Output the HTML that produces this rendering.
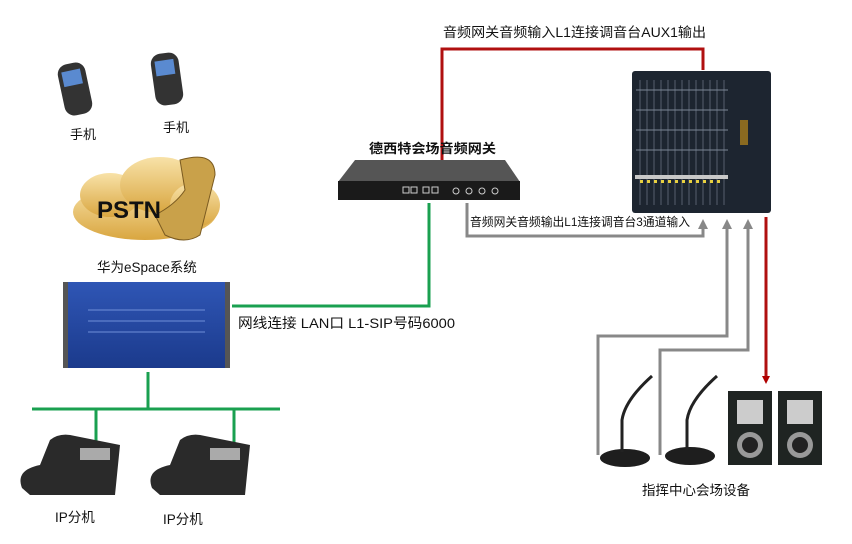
<!DOCTYPE html>
<html><head><meta charset="utf-8"><style>
html,body{margin:0;padding:0;background:#fff;}
svg{display:block;}
text{font-family:"Liberation Sans","Noto Sans CJK SC",sans-serif;fill:#111;}
</style></head><body>
<svg width="852" height="544" viewBox="0 0 852 544" xmlns="http://www.w3.org/2000/svg">
<defs>
<marker id="ar" markerWidth="8" markerHeight="8" refX="4" refY="4" orient="auto" markerUnits="userSpaceOnUse"><path d="M0,0 L8,4 L0,8 z" fill="#b00000"/></marker>
<marker id="ag" markerWidth="10" markerHeight="10" refX="5" refY="5" orient="auto" markerUnits="userSpaceOnUse"><path d="M0,0 L10,5 L0,10 z" fill="#888"/></marker>
<linearGradient id="cl" x1="0" y1="0" x2="0" y2="1"><stop offset="0" stop-color="#f8e2a8"/><stop offset="1" stop-color="#d9a640"/></linearGradient>
<linearGradient id="hw" x1="0" y1="0" x2="0" y2="1"><stop offset="0" stop-color="#2f56b5"/><stop offset="1" stop-color="#1b3a8c"/></linearGradient>
</defs>

<polyline points="703,70 703,49 442,49 442,170" fill="none" stroke="#b01010" stroke-width="3" marker-end="url(#ar)"/>
<text x="443" y="37" font-size="13.5" textLength="263" lengthAdjust="spacingAndGlyphs">音频网关音频输入L1连接调音台AUX1输出</text>

<polyline points="467,203 467,236 703,236 703,224" fill="none" stroke="#888" stroke-width="3" marker-end="url(#ag)"/>
<text x="470" y="226" font-size="12" textLength="220" lengthAdjust="spacingAndGlyphs">音频网关音频输出L1连接调音台3通道输入</text>
<polyline points="598,455 598,336 727,336 727,224" fill="none" stroke="#888" stroke-width="3" marker-end="url(#ag)"/>
<polyline points="660,455 660,350 748,350 748,224" fill="none" stroke="#888" stroke-width="3" marker-end="url(#ag)"/>
<line x1="766" y1="217" x2="766" y2="380" stroke="#b01010" stroke-width="3" marker-end="url(#ar)"/>

<polyline points="429,203 429,306 232,306" fill="none" stroke="#1aa050" stroke-width="3"/>
<line x1="148" y1="372" x2="148" y2="409" stroke="#1aa050" stroke-width="3"/>
<line x1="32" y1="409" x2="280" y2="409" stroke="#1aa050" stroke-width="3"/>
<line x1="96" y1="409" x2="96" y2="447" stroke="#1aa050" stroke-width="3"/>
<line x1="234" y1="409" x2="234" y2="447" stroke="#1aa050" stroke-width="3"/>
<text x="238" y="328" font-size="14" textLength="217" lengthAdjust="spacingAndGlyphs">网线连接 LAN口  L1-SIP号码6000</text>

<text x="369" y="153" font-size="13" font-weight="bold" textLength="127" lengthAdjust="spacingAndGlyphs">德西特会场音频网关</text>
<polygon points="355,160 505,160 520,182 338,182" fill="#555"/>
<rect x="338" y="181" width="182" height="19" fill="#1a1a1a"/>
<g fill="none" stroke="#ccc" stroke-width="1">
<rect x="403" y="187" width="6" height="6"/><rect x="411" y="187" width="6" height="6"/><rect x="423" y="187" width="6" height="6"/><rect x="432" y="187" width="6" height="6"/>
<circle cx="456" cy="191" r="3"/><circle cx="469" cy="191" r="3"/><circle cx="482" cy="191" r="3"/><circle cx="495" cy="191" r="3"/>
</g>

<!-- mixer -->
<rect x="632" y="71" width="139" height="142" rx="3" fill="#1d2530"/>
<g stroke="#56606e" stroke-width="1">
<line x1="640" y1="80" x2="640" y2="205"/><line x1="647" y1="80" x2="647" y2="205"/><line x1="654" y1="80" x2="654" y2="205"/><line x1="661" y1="80" x2="661" y2="205"/><line x1="668" y1="80" x2="668" y2="205"/><line x1="675" y1="80" x2="675" y2="205"/><line x1="682" y1="80" x2="682" y2="205"/><line x1="689" y1="80" x2="689" y2="205"/><line x1="696" y1="80" x2="696" y2="205"/><line x1="703" y1="80" x2="703" y2="205"/><line x1="710" y1="80" x2="710" y2="205"/><line x1="717" y1="80" x2="717" y2="205"/><line x1="724" y1="80" x2="724" y2="205"/>
</g>
<g stroke="#7a8595" stroke-width="1">
<line x1="636" y1="90" x2="728" y2="90"/><line x1="636" y1="110" x2="728" y2="110"/>
<line x1="636" y1="130" x2="728" y2="130"/><line x1="636" y1="150" x2="728" y2="150"/>
</g>
<rect x="635" y="175" width="93" height="4" fill="#c8c8c8"/>
<g fill="#e8d040">
<rect x="640" y="180" width="3" height="3"/><rect x="647" y="180" width="3" height="3"/><rect x="654" y="180" width="3" height="3"/><rect x="661" y="180" width="3" height="3"/><rect x="668" y="180" width="3" height="3"/><rect x="675" y="180" width="3" height="3"/><rect x="682" y="180" width="3" height="3"/><rect x="689" y="180" width="3" height="3"/><rect x="696" y="180" width="3" height="3"/><rect x="703" y="180" width="3" height="3"/><rect x="710" y="180" width="3" height="3"/><rect x="717" y="180" width="3" height="3"/>
</g>
<rect x="740" y="120" width="8" height="25" fill="#8a6a20"/>

<g>
<rect x="61" y="63" width="28" height="52" rx="10" fill="#333" transform="rotate(-12 75 89)"/>
<rect x="65" y="70" width="19" height="15" fill="#5a8ad0" transform="rotate(-12 75 89)"/>
<rect x="153" y="53" width="28" height="52" rx="10" fill="#333" transform="rotate(-8 167 79)"/>
<rect x="157" y="60" width="19" height="15" fill="#5a8ad0" transform="rotate(-8 167 79)"/>
</g>
<text x="70" y="139" font-size="13">手机</text>
<text x="163" y="132" font-size="13">手机</text>

<g fill="url(#cl)">
<ellipse cx="145" cy="212" rx="72" ry="28"/>
<ellipse cx="110" cy="195" rx="30" ry="22"/><ellipse cx="160" cy="185" rx="40" ry="28"/><ellipse cx="195" cy="205" rx="25" ry="22"/>
</g>
<path d="M180,160 Q215,150 215,175 L200,235 Q185,245 165,235 L155,215 Q175,205 185,190 Z" fill="#c9a14a" stroke="#7a5a20" stroke-width="1"/>
<text x="97" y="218" font-size="24" font-weight="bold">PSTN</text>
<text x="97" y="272" font-size="13.5">华为eSpace系统</text>

<rect x="63" y="282" width="167" height="86" fill="#555"/>
<rect x="68" y="282" width="157" height="86" fill="url(#hw)"/>
<g stroke="#6f8fd8" stroke-width="1"><line x1="88" y1="310" x2="205" y2="310"/><line x1="88" y1="321" x2="205" y2="321"/><line x1="88" y1="332" x2="205" y2="332"/></g>

<g>
<path d="M22,488 Q15,470 40,465 L50,440 Q60,432 75,436 L120,445 L115,495 L30,495 Z" fill="#2a2a2a"/>
<rect x="80" y="448" width="30" height="12" fill="#aaa"/>
<path d="M152,488 Q145,470 170,465 L180,440 Q190,432 205,436 L250,445 L245,495 L160,495 Z" fill="#2a2a2a"/>
<rect x="210" y="448" width="30" height="12" fill="#aaa"/>
</g>
<text x="55" y="522" font-size="13.5">IP分机</text>
<text x="163" y="524" font-size="13.5">IP分机</text>

<g fill="#1e1e1e">
<ellipse cx="625" cy="458" rx="25" ry="9"/>
<path d="M622,452 L622,420 Q625,400 652,376" stroke="#222" stroke-width="3" fill="none"/>
<ellipse cx="690" cy="456" rx="25" ry="9"/>
<path d="M687,450 L687,420 Q690,400 717,376" stroke="#222" stroke-width="3" fill="none"/>
</g>
<g>
<rect x="728" y="391" width="44" height="74" fill="#1f2422"/>
<rect x="737" y="400" width="26" height="24" fill="#ccc"/>
<circle cx="750" cy="445" r="13" fill="#999"/><circle cx="750" cy="445" r="8" fill="#222"/>
<rect x="778" y="391" width="44" height="74" fill="#1f2422"/>
<rect x="787" y="400" width="26" height="24" fill="#ccc"/>
<circle cx="800" cy="445" r="13" fill="#999"/><circle cx="800" cy="445" r="8" fill="#222"/>
</g>
<text x="642" y="495" font-size="13.5">指挥中心会场设备</text>
</svg>
</body></html>
